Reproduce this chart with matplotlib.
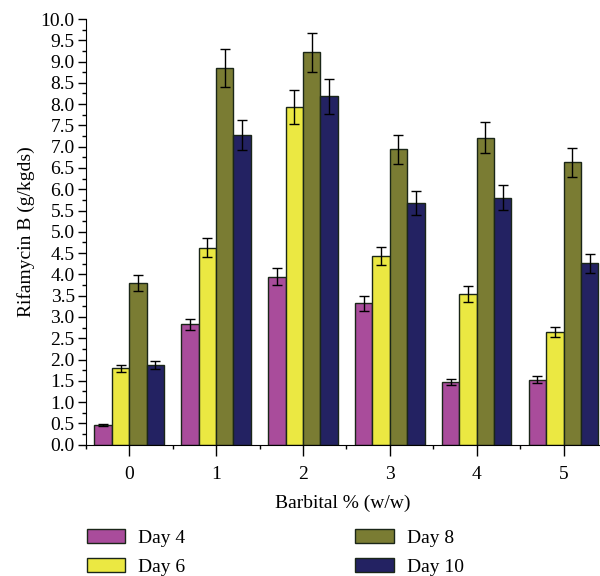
import matplotlib.pyplot as plt
import numpy as np
from matplotlib.ticker import MultipleLocator

plt.rcParams['font.family'] = ['Liberation Serif', 'DejaVu Serif']

barbital = [0, 1, 2, 3, 4, 5]
days = ["Day 4", "Day 6", "Day 8", "Day 10"]

# rifamycin B yield (g/kgds) and its error, one list per day
day4 = [0.46, 2.83, 3.95, 3.32, 1.47, 1.53]
day6 = [1.79, 4.63, 7.93, 4.43, 3.54, 2.65]
day8 = [3.79, 8.85, 9.22, 6.94, 7.21, 6.64]
day10 = [1.87, 7.27, 8.19, 5.68, 5.80, 4.26]

err4 = [0.02, 0.13, 0.20, 0.17, 0.07, 0.08]
err6 = [0.09, 0.23, 0.40, 0.22, 0.18, 0.12]
err8 = [0.19, 0.44, 0.46, 0.34, 0.36, 0.34]
err10 = [0.10, 0.35, 0.41, 0.28, 0.29, 0.22]

colors = ["#a94c9b", "#ebe842", "#7a7c33", "#232262"]

fig = plt.figure(figsize=(6, 5.76), dpi=100)
ax = fig.add_axes([0.143, 0.228, 0.857, 0.739])

x = np.array(barbital)
w = 0.2
series = [(day4, err4), (day6, err6), (day8, err8), (day10, err10)]
for i, (vals, errs) in enumerate(series):
    ax.bar(x + (i - 1.5) * w, vals, w, color=colors[i], edgecolor="#1a2618",
           linewidth=1.0, label=days[i], zorder=2)
    ax.errorbar(x + (i - 1.5) * w, vals, yerr=errs, fmt="none", ecolor="black",
                elinewidth=1.0, capsize=3.5, capthick=1.0, zorder=3)

ax.set_xlim(-0.5, 5.42)
ax.set_ylim(0, 10)
ax.spines["top"].set_visible(False)
ax.spines["right"].set_visible(False)
ax.set_yticks(np.arange(0, 10.01, 0.5))
ax.set_yticklabels(["%.1f" % v for v in np.arange(0, 10.01, 0.5)])
ax.yaxis.set_minor_locator(MultipleLocator(0.25))
ax.set_xticks(barbital)
ax.set_xticks(np.arange(-0.5, 5.5, 1), minor=True)
ax.tick_params(axis="both", which="major", direction="out", length=6, width=1,
               labelsize=14)
ax.tick_params(axis="both", which="minor", direction="out", length=3, width=1)
ax.tick_params(axis="y", which="major", pad=2)
ax.tick_params(axis="x", which="major", length=8, pad=7)

ax.set_ylabel("Rifamycin B (g/kgds)", fontsize=14, labelpad=4)
ax.set_xlabel("Barbital % (w/w)", fontsize=14, labelpad=9)

fig.legend(loc="lower left", bbox_to_anchor=(0.115, -0.03), ncol=2, frameon=False,
           fontsize=14, handlelength=2.0, handleheight=0.7, columnspacing=8.75,
           labelspacing=0.6, handletextpad=0.65)

fig.savefig("out.png", dpi=100)
